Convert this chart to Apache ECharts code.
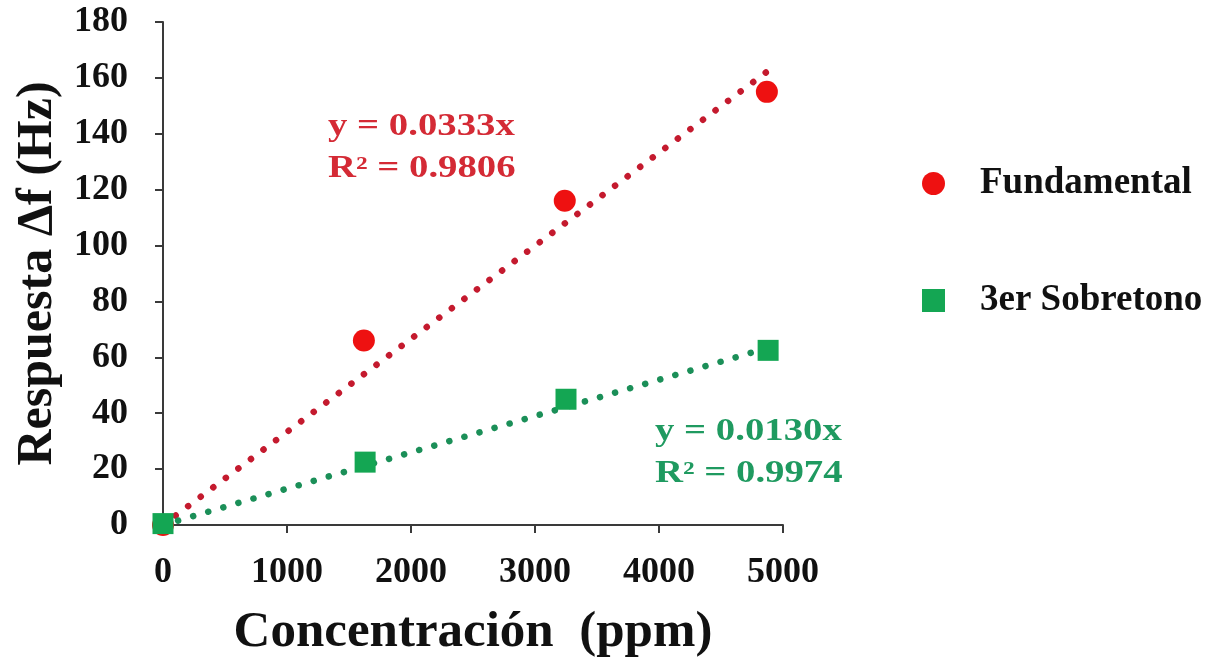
<!DOCTYPE html>
<html><head><meta charset="utf-8">
<script src="https://cdn.jsdelivr.net/npm/echarts@6/dist/echarts.min.js"></script>
<style>html,body{margin:0;padding:0;background:#fff}#c{width:1223px;height:661px}</style>
</head><body><div id="c"></div>
<script>
const seriesNames = ['Fundamental', '3er Sobretono'];
const fundX = [0, 1620, 3240, 4870];
const fundY = [0, 66, 116, 155];
const sobreX = [0, 1630, 3250, 4880];
const sobreY = [0.5, 22.5, 45, 62.5];
const trendFundX = [0, 4870];
const trendFundY = [0, 162.2];
const trendSobreX = [0, 4880];
const trendSobreY = [0, 63.4];
const eqFund = ['y = 0.0333x', 'R² = 0.9806'];
const eqSobre = ['y = 0.0130x', 'R² = 0.9974'];
const xTicks = [0, 1000, 2000, 3000, 4000, 5000];
const yTicks = [0, 20, 40, 60, 80, 100, 120, 140, 160, 180];

const RED = '#ee1111', GREEN = '#14a653';
const RED_T = '#c41a2e', GREEN_T = '#1b8f58';
const RED_EQ = '#d42a35', GREEN_EQ = '#1f9a60';
const FONT = '"Liberation Serif", "DejaVu Serif", serif';
const zip = (a, b) => a.map((v, i) => [v, b[i]]);

const chart = echarts.init(document.getElementById('c'));
chart.setOption({
  backgroundColor: '#fff',
  animation: false,
  grid: {left: 163, right: 440, top: 22, bottom: 136, containLabel: false, outerBoundsMode: 'none'},
  xAxis: {
    type: 'value', min: xTicks[0], max: xTicks[xTicks.length-1], interval: 1000,
    splitLine: {show: false},
    axisLine: {lineStyle: {color: '#3a3a3a', width: 2}},
    axisTick: {show: true, inside: false, length: 8, lineStyle: {color: '#3a3a3a', width: 2}},
    axisLabel: {margin: 30, fontFamily: FONT, fontWeight: 'bold', fontSize: 36, color: '#111', formatter: v => String(v)},
    name: 'Concentración  (ppm)', nameLocation: 'middle', nameGap: 82,
    nameTextStyle: {fontFamily: FONT, fontWeight: 'bold', fontSize: 51, color: '#111'}
  },
  yAxis: {
    type: 'value', min: yTicks[0], max: yTicks[yTicks.length-1], interval: 20,
    splitLine: {show: false},
    axisLine: {show: true, lineStyle: {color: '#3a3a3a', width: 2}},
    axisTick: {show: true, inside: false, length: 8, lineStyle: {color: '#3a3a3a', width: 2}},
    axisLabel: {margin: 35, fontFamily: FONT, fontWeight: 'bold', fontSize: 36, color: '#111', formatter: v => String(v)},
    name: 'Respuesta Δf (Hz)', nameLocation: 'middle', nameGap: 100,
    nameTextStyle: {fontFamily: FONT, fontWeight: 'bold', fontSize: 50, color: '#111'}
  },
  legend: {
    orient: 'vertical', left: 917, top: 160, itemGap: 80,
    itemWidth: 23, itemHeight: 23,
    data: [{name: seriesNames[0], icon: 'circle'}, {name: seriesNames[1], icon: 'rect'}],
    textStyle: {fontFamily: FONT, fontWeight: 'bold', fontSize: 37, color: '#111', padding: [0,0,0,30]}
  },
  series: [
    {type: 'line', data: zip(trendFundX, trendFundY), symbol: 'none', silent: true,
     lineStyle: {color: RED_T, width: 6.5, type: [0.1, 15.6], cap: 'round'}, z: 1},
    {type: 'line', data: zip(trendSobreX, trendSobreY), symbol: 'none', silent: true,
     lineStyle: {color: GREEN_T, width: 6.5, type: [0.1, 15.6], cap: 'round'}, z: 1},
    {name: seriesNames[0], type: 'scatter', data: zip(fundX, fundY), symbol: 'circle', symbolSize: 22,
     itemStyle: {color: RED, opacity: 1}, z: 3},
    {name: seriesNames[1], type: 'scatter', data: zip(sobreX, sobreY), symbol: 'rect', symbolSize: 21,
     itemStyle: {color: GREEN, opacity: 1}, z: 4}
  ],
  graphic: [
    {type: 'text', x: 328, y: 106, scaleX: 1.25, style: {text: eqFund.join('\n'), fill: RED_EQ, font: 'bold 31px ' + FONT, lineHeight: 42}},
    {type: 'text', x: 655, y: 411, scaleX: 1.25, style: {text: eqSobre.join('\n'), fill: GREEN_EQ, font: 'bold 31px ' + FONT, lineHeight: 42}}
  ]
});
</script></body></html>
